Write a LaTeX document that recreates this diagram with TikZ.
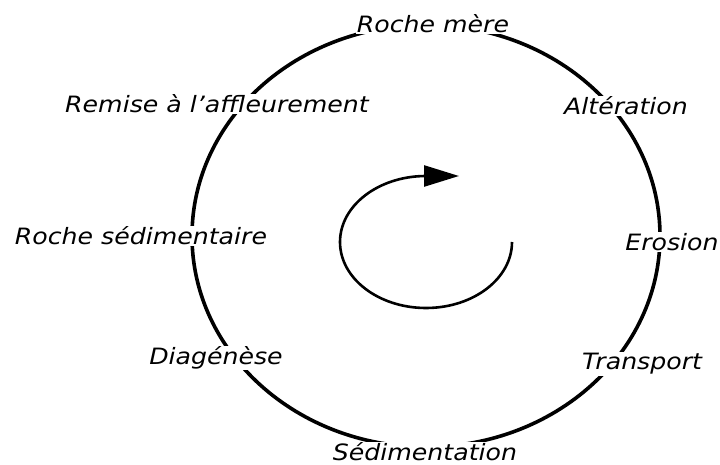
\documentclass[tikz,border=0pt]{standalone}
\usepackage{fontspec}
\newfontfamily\lblfont{DejaVu Sans}[FakeStretch=1.12]
\usetikzlibrary{arrows.meta}
\tikzset{
  lbl/.style={fill=white, inner sep=1pt, font=\lblfont\itshape\fontsize{22.5}{26}\selectfont},
  cycleline/.style={line width=3.6pt},
  turnarrow/.style={line width=2.6pt}
}
\begin{document}
\begin{tikzpicture}[x=1pt,y=-1pt]
\useasboundingbox (0,0) rectangle (720,465);
\coordinate (c) at (426,236);
\draw[cycleline] (c) ellipse [x radius=234, y radius=211];
\node[lbl] (rm) at (433,24) {Roche mère};
\node[lbl] (alt) at (626,106) {Altération};
\node[lbl] (ero) at (672,242) {Erosion};
\node[lbl] (tra) at (642,364) {Transport};
\node[lbl] (sed) at (425,452) {Sédimentation};
\node[lbl] (dia) at (216,358) {Diagénèse};
\node[lbl] (rs) at (141,236) {Roche sédimentaire};
\node[lbl] (raf) at (217,104) {Remise à l’affleurement};
\coordinate (astart) at (512,242);
\draw[turnarrow, -{Triangle[length=35pt,width=21pt]}] (astart) arc [start angle=0, end angle=270, x radius=86, y radius=66] -- ++(33,0);
\end{tikzpicture}
\end{document}
